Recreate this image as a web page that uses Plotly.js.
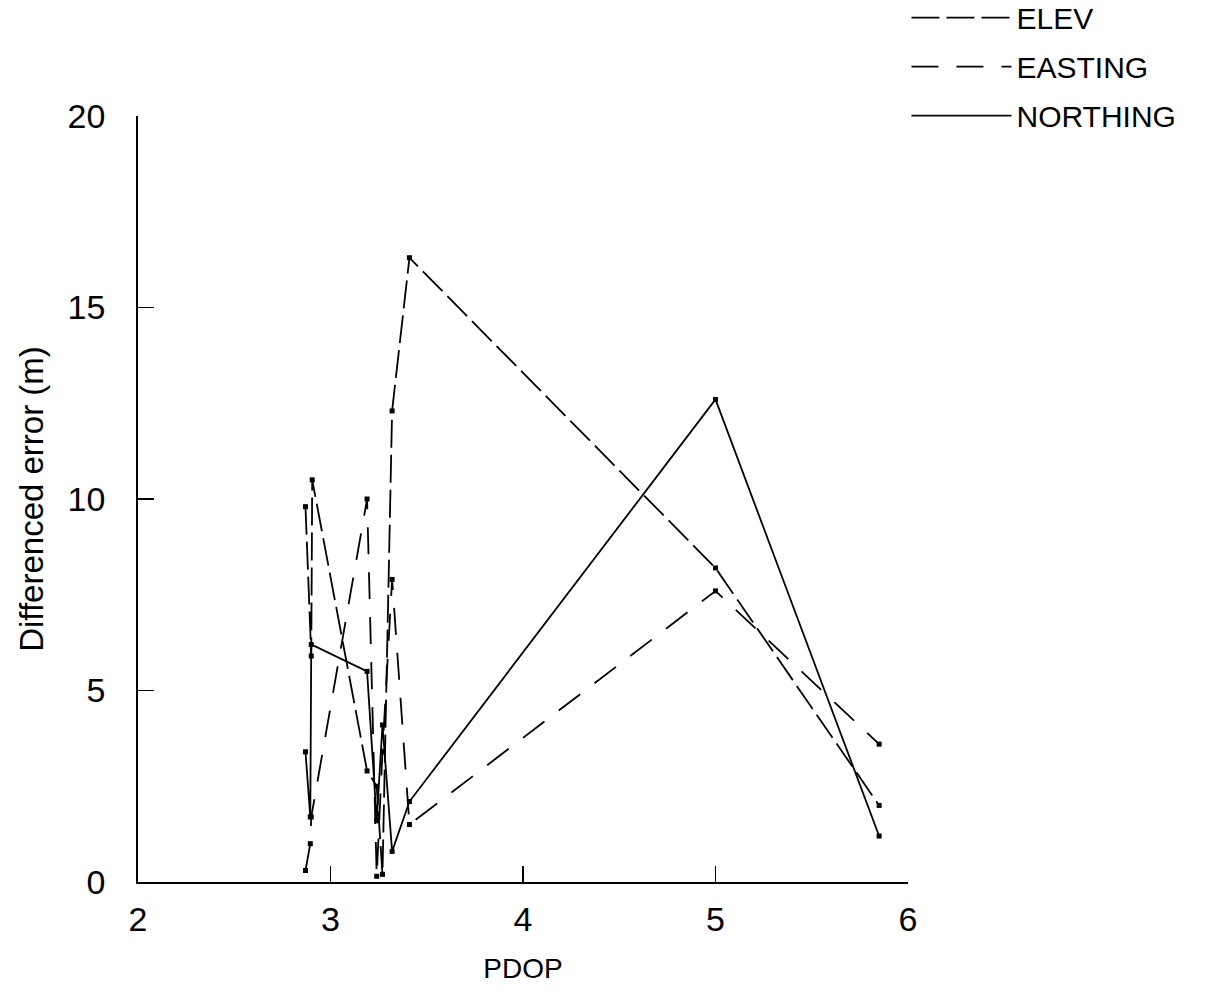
<!DOCTYPE html>
<html>
<head>
<meta charset="utf-8">
<script src="https://cdn.plot.ly/plotly-3.0.1.min.js"></script>
<style>html,body{margin:0;padding:0;background:#fff;}#chart{width:1220px;height:1006px;}</style>
</head>
<body>
<div id="chart"></div>
<script>
// Data
const elevPdop     = [2.87, 2.90, 2.905, 3.19, 3.24, 3.27, 3.32, 3.41, 5.00, 5.85];
const elevError    = [9.8, 5.9, 10.5, 2.9, 2.5, 0.2, 12.3, 16.3, 8.2, 2.0];
const eastingPdop  = [2.87, 2.895, 2.90, 3.19, 3.24, 3.27, 3.32, 3.41, 5.00, 5.85];
const eastingError = [0.3, 1.0, 1.7, 10.0, 0.15, 3.4, 7.9, 1.5, 7.6, 3.6];
const northPdop    = [2.87, 2.895, 2.90, 3.19, 3.24, 3.27, 3.32, 3.41, 5.00, 5.85];
const northError   = [3.4, 1.7, 6.2, 5.5, 1.6, 4.1, 0.8, 2.1, 12.6, 1.2];
const xTicks = [2, 3, 4, 5, 6];
const yTicks = [0, 5, 10, 15, 20];

const FONT = 'Liberation Sans, Arial, sans-serif';
const lineTrace = (x, y, name, dash, grp) => ({
  x, y, name, type: 'scatter', mode: 'lines', legendgroup: grp,
  line: {color: '#000', width: 1.8, dash: dash}
});
const markTrace = (x, y) => ({
  x, y, type: 'scatter', mode: 'markers', showlegend: false,
  marker: {color: '#000', size: 5, symbol: 'square'}
});

const data = [
  lineTrace(elevPdop, elevError, 'ELEV', '28px,7px', 'a'),
  lineTrace(eastingPdop, eastingError, 'EASTING', '27px,18px', 'b'),
  lineTrace(northPdop, northError, 'NORTHING', 'solid', 'c'),
  markTrace(elevPdop, elevError),
  markTrace(eastingPdop, eastingError),
  markTrace(northPdop, northError)
];

const layout = {
  width: 1220, height: 1006,
  margin: {l: 138, r: 312, t: 116, b: 124, autoexpand: false},
  paper_bgcolor: '#fff', plot_bgcolor: '#fff',
  font: {family: FONT, color: '#000', size: 30},
  showlegend: true,
  legend: {
    x: 0.998, xanchor: 'left', y: 1.1625, yanchor: 'top',
    font: {family: FONT, size: 30, color: '#000'},
    itemwidth: 100, bgcolor: 'rgba(0,0,0,0)', tracegroupgap: 7
  },
  xaxis: {
    range: [2, 6], tickvals: xTicks, ticktext: xTicks.map(String),
    showgrid: false, zeroline: false, showline: true, linecolor: '#000', linewidth: 1.8,
    ticks: 'inside', ticklen: 16, tickwidth: 1.6, tickcolor: '#000',
    tickfont: {family: FONT, size: 34}, ticklabelstandoff: 6,
    title: {text: 'PDOP', font: {family: FONT, size: 28}, standoff: 22}
  },
  yaxis: {
    range: [0, 20], tickvals: yTicks, ticktext: yTicks.map(String),
    showgrid: false, zeroline: false, showline: true, linecolor: '#000', linewidth: 1.8,
    ticks: 'inside', ticklen: 16, tickwidth: 1.6, tickcolor: '#000',
    tickfont: {family: FONT, size: 34}, ticklabelstandoff: 24,
    title: {text: 'Differenced error (m)', font: {family: FONT, size: 33}, standoff: 14}
  }
};

Plotly.newPlot('chart', data, layout, {displayModeBar: false, staticPlot: true});
</script>
</body>
</html>
